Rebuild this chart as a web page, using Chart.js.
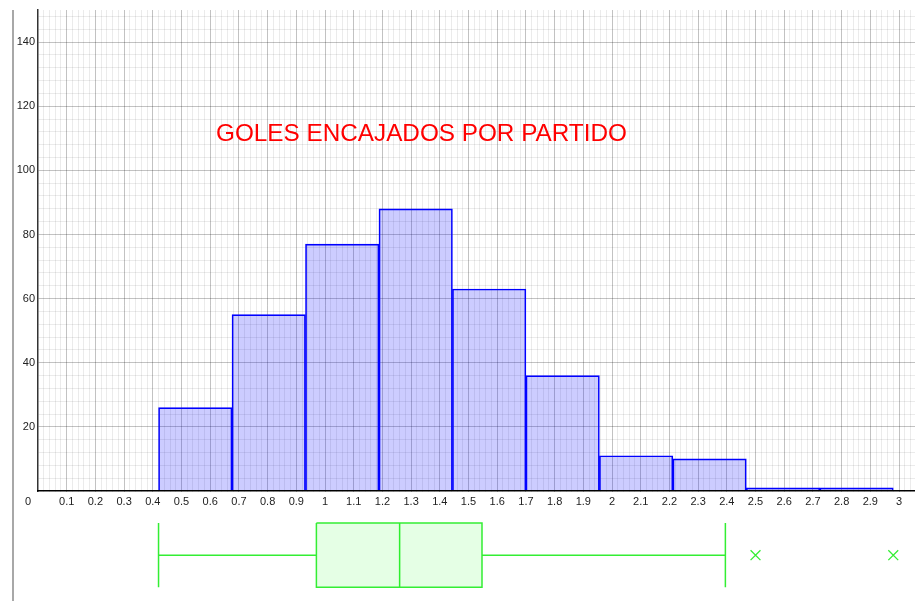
<!DOCTYPE html>
<html>
<head>
<meta charset="utf-8">
<script src="https://cdn.jsdelivr.net/npm/chart.js@4"></script>
<style>
html, body { margin: 0; padding: 0; background: #ffffff; }
#wrap { position: relative; width: 915px; height: 601px; overflow: hidden; }
#c { position: absolute; left: 0; top: 0; }
#edge { position: absolute; left: 12px; top: 10px; width: 2px; height: 591px; background: #a8a8a8; }
#title { position: absolute; left: 216px; top: 121px; font: 24.3px "Liberation Sans", Arial, sans-serif; line-height: 24px; color: #ff0000; white-space: nowrap; pointer-events: none; }
</style>
</head>
<body>
<div id="wrap">
  <canvas id="c" width="915" height="601"></canvas>
  <div id="edge"></div>
  <div id="title"></div>
</div>
<script>
// ---------------- DATA ----------------
const chartTitle = 'GOLES ENCAJADOS POR PARTIDO';
const binEdges = [0.42, 0.676, 0.932, 1.188, 1.444, 1.7, 1.956, 2.212, 2.468, 2.724, 2.98];
const frequencies = [26, 55, 77, 88, 63, 36, 11, 10, 1, 1];
// box plot: lower whisker, Q1, median, Q3, upper whisker
const boxFiveNumbers = [0.42, 0.97, 1.26, 1.547, 2.395];
const outliers = [2.5, 2.98];
const xTickLabels = ['0.1','0.2','0.3','0.4','0.5','0.6','0.7','0.8','0.9','1','1.1','1.2','1.3','1.4','1.5','1.6','1.7','1.8','1.9','2','2.1','2.2','2.3','2.4','2.5','2.6','2.7','2.8','2.9','3'];
const yTickLabels = ['20','40','60','80','100','120','140'];
const originLabel = '0';

// ---------------- VIEW SETTINGS ----------------
const X_MIN = 0, X_MAX = 3.0557;
const Y_MIN = -34.3, Y_MAX = 150;
const X_MINOR = 0.02, Y_MINOR = 4;
const BOX_TOP = -10, BOX_MID = -20, BOX_BOT = -30;
const GREEN = '#33ee33';
const FONT = { family: '"Liberation Sans", Arial, sans-serif', size: 11 };

document.getElementById('title').textContent = chartTitle;

const fmt = v => String(Math.round(v * 100) / 100);
const isMajorX = v => Math.abs(v * 10 - Math.round(v * 10)) < 1e-6;
const isMajorY = v => Math.abs(v / 20 - Math.round(v / 20)) < 1e-6;

const barData = frequencies.map((f, i) => ({ x: (binEdges[i] + binEdges[i + 1]) / 2, y: f }));
const [bMin, bQ1, bMed, bQ3, bMax] = boxFiveNumbers;

const lineDs = (data, extra) => Object.assign({
  type: 'line', data, borderColor: GREEN, borderWidth: 1.5, pointRadius: 0,
  tension: 0, fill: false
}, extra || {});

const datasets = [
  {
    type: 'bar',
    data: barData,
    backgroundColor: 'rgba(0,0,255,0.2)',
    borderColor: '#0000ff',
    borderWidth: 1,
    barThickness: 'flex',
    categoryPercentage: 1,
    barPercentage: 1
  },
  lineDs([{x: bQ1, y: BOX_TOP}, {x: bQ3, y: BOX_TOP}, {x: bQ3, y: BOX_BOT}, {x: bQ1, y: BOX_BOT}, {x: bQ1, y: BOX_TOP}],
         { fill: 'shape', backgroundColor: 'rgba(0,255,0,0.1)' }),
  lineDs([{x: bMed, y: BOX_TOP}, {x: bMed, y: BOX_BOT}]),
  lineDs([{x: bMin, y: BOX_MID}, {x: bQ1, y: BOX_MID}]),
  lineDs([{x: bQ3, y: BOX_MID}, {x: bMax, y: BOX_MID}]),
  lineDs([{x: bMin, y: BOX_TOP}, {x: bMin, y: BOX_BOT}]),
  lineDs([{x: bMax, y: BOX_TOP}, {x: bMax, y: BOX_BOT}]),
  {
    type: 'scatter',
    data: outliers.map(o => ({ x: o, y: BOX_MID })),
    pointStyle: 'crossRot', pointRadius: 7, borderColor: GREEN, borderWidth: 1.3,
    backgroundColor: GREEN, showLine: false
  }
];

// cover the grid below the x axis (grid only drawn in the first quadrant)
const quadrantPlugin = {
  id: 'quadrant',
  beforeDatasetsDraw(chart) {
    const { ctx, chartArea, scales } = chart;
    const y0 = scales.y.getPixelForValue(0);
    ctx.save();
    ctx.fillStyle = '#ffffff';
    ctx.fillRect(chartArea.left - 3, y0 + 1, chartArea.right - chartArea.left + 6, chartArea.bottom - y0);
    ctx.restore();
  },
  afterDraw(chart) {
    const { ctx, scales } = chart;
    const x0 = scales.x.getPixelForValue(0);
    const y0 = scales.y.getPixelForValue(0);
    ctx.save();
    ctx.font = '11px "Liberation Sans", Arial, sans-serif';
    ctx.fillStyle = '#222';
    ctx.textAlign = 'center';
    ctx.textBaseline = 'middle';
    ctx.fillText(originLabel, x0 - 10, y0 + 11);
    ctx.restore();
  }
};

new Chart(document.getElementById('c'), {
  type: 'bar',
  data: { datasets },
  plugins: [quadrantPlugin],
  options: {
    responsive: false,
    animation: false,
    layout: { autoPadding: false, padding: { top: 10, left: 0, right: 0, bottom: 0 } },
    plugins: { legend: { display: false }, tooltip: { enabled: false }, title: { display: false } },
    scales: {
      x: {
        type: 'linear',
        position: { y: 0 },
        min: X_MIN, max: X_MAX,
        offset: false,
        grid: {
          offset: false,
          drawTicks: false,
          lineWidth: 1,
          color: c => {
            const v = c.tick.value;
            if (Math.abs(v) < 1e-9) return 'rgba(0,0,0,0)';
            return isMajorX(v) ? 'rgba(0,0,0,0.24)' : 'rgba(0,0,0,0.08)';
          }
        },
        border: { display: true, color: '#000000', width: 1.5, z: 1 },
        ticks: {
          z: 1,
          stepSize: X_MINOR,
          autoSkip: false,
          includeBounds: false,
          maxRotation: 0, minRotation: 0,
          padding: 4,
          color: '#222',
          font: FONT,
          callback: v => { const s = fmt(v); return xTickLabels.includes(s) ? s : ''; }
        },
        afterFit: s => { s.paddingLeft = 0; s.paddingRight = 0; }
      },
      y: {
        type: 'linear',
        position: 'left',
        min: Y_MIN, max: Y_MAX,
        grid: {
          drawTicks: false,
          lineWidth: 1,
          color: c => {
            const v = c.tick.value;
            if (v <= 1e-9) return 'rgba(0,0,0,0)';
            return isMajorY(v) ? 'rgba(0,0,0,0.24)' : 'rgba(0,0,0,0.08)';
          }
        },
        border: { display: true, color: '#333333', width: 1.5 },
        ticks: {
          stepSize: Y_MINOR,
          autoSkip: false,
          includeBounds: false,
          padding: 3,
          color: '#222',
          font: FONT,
          callback: v => { const s = fmt(v); return yTickLabels.includes(s) ? s : ''; }
        },
        afterFit: s => { s.width = 38; s.paddingTop = 0; s.paddingBottom = 0; }
      }
    }
  }
});
</script>
</body>
</html>
